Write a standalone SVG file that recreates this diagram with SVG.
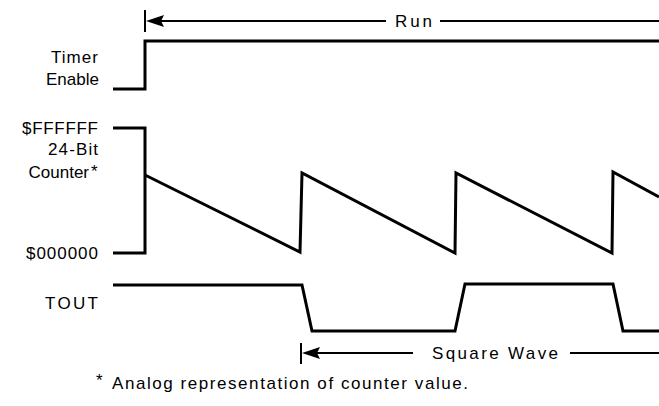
<svg xmlns="http://www.w3.org/2000/svg" width="659" height="406" viewBox="0 0 659 406">
<style>
text{font-family:"Liberation Sans",Arial,sans-serif;font-size:17px;fill:#000}
.lbl{text-anchor:end}
.wave{fill:none;stroke:#000;stroke-width:3;stroke-linejoin:miter}
.dim{fill:none;stroke:#000;stroke-width:2}
.head{fill:#000;stroke:none}
</style>
<rect width="659" height="406" fill="#fff"/>
<g id="timer-enable">
<text x="51" y="63" textLength="47">Timer</text>
<text x="46" y="85" textLength="53">Enable</text>
<polyline class="wave" points="113,89 145,89 145,41 659,41"/>
</g>
<g id="counter">
<text x="22" y="134" textLength="76">$FFFFFF</text>
<text x="48" y="155" textLength="50">24-Bit</text>
<text class="lbl" x="89" y="178">Counter</text>
<text x="91" y="177" font-size="14">*</text>
<text x="26" y="259" textLength="72">$000000</text>
<path class="wave" d="M113,128 H145 V253 H113"/>
<polyline class="wave" points="145,175 300,252 302,173 455,253 456,173 612,253 613,172 659,197"/>
</g>
<g id="tout">
<text x="45" y="309" textLength="53">TOUT</text>
<polyline class="wave" points="113,285 302,285 312,331 455,331 465,284 613,284 623,331 659,331"/>
</g>
<g id="connectors">
<g id="run-arrow">
<line class="dim" x1="145" y1="10" x2="145" y2="32"/>
<polygon class="head" points="146,21 164,15 161,21 164,27"/>
<line class="dim" x1="160" y1="21" x2="386" y2="21"/>
<line class="dim" x1="440" y1="21" x2="659" y2="21"/>
<text x="395" y="27" textLength="37">Run</text>
</g>
<g id="square-wave-arrow">
<line class="dim" x1="301" y1="343" x2="301" y2="364"/>
<polygon class="head" points="302,353 320,347 317,353 320,359"/>
<line class="dim" x1="316" y1="353" x2="413" y2="353"/>
<line class="dim" x1="570" y1="353" x2="659" y2="353"/>
<text x="432" y="359" textLength="126">Square Wave</text>
</g>
</g>
<g id="footnote">
<text x="96" y="386" font-size="15">*</text>
<text x="112" y="389" textLength="356">Analog representation of counter value.</text>
</g>
</svg>
